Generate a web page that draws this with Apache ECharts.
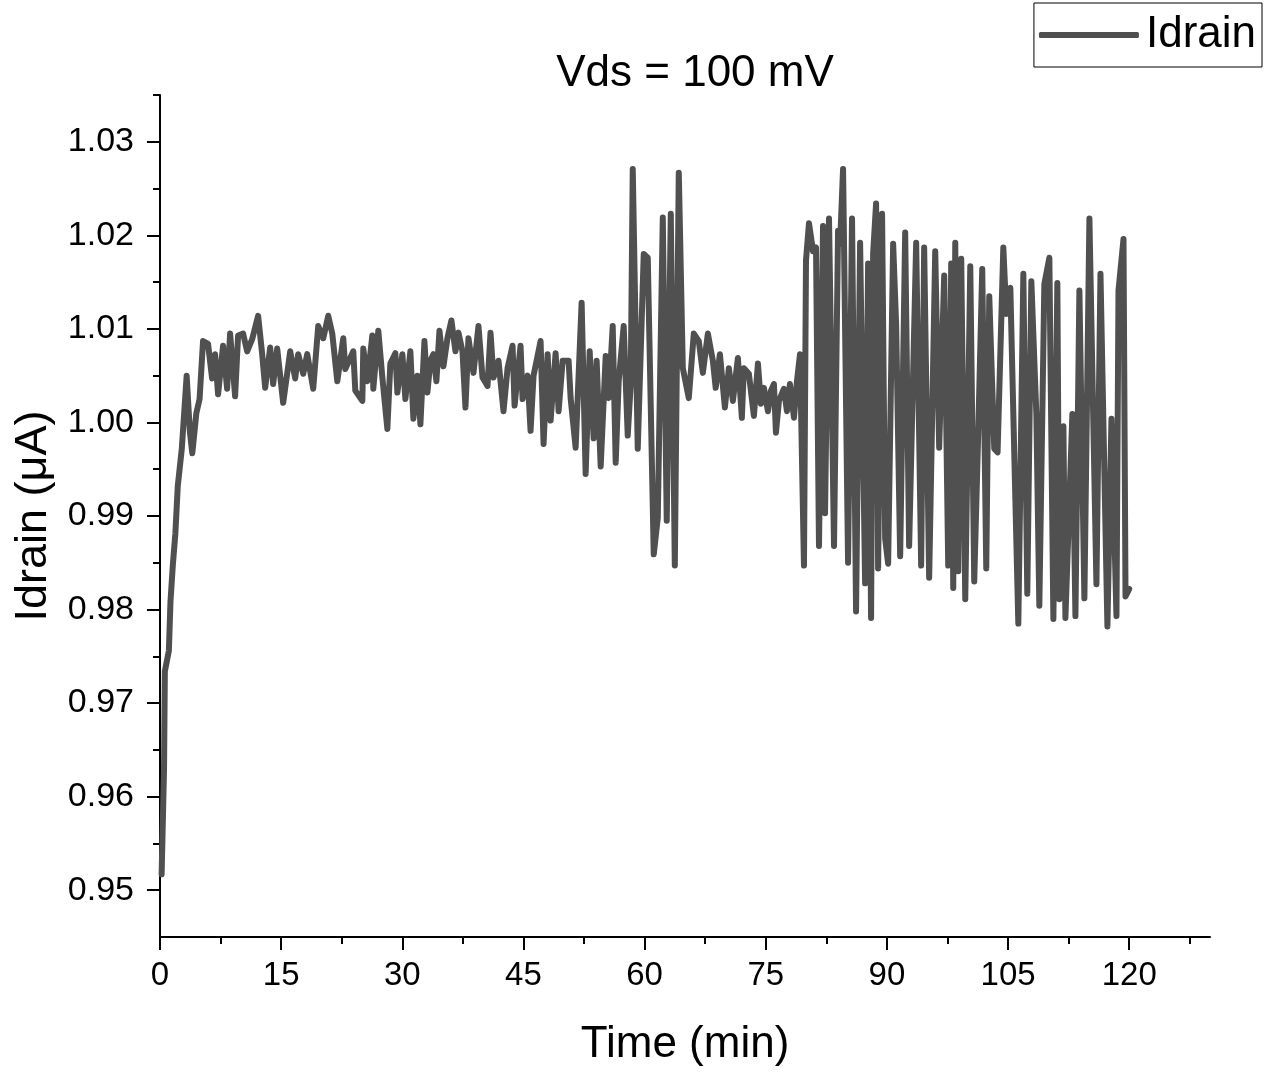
<!DOCTYPE html>
<html>
<head>
<meta charset="utf-8">
<script src="https://cdn.jsdelivr.net/npm/echarts@6/dist/echarts.min.js"></script>
<style>html,body{margin:0;padding:0;background:#fff}#c{width:1265px;height:1072px}</style>
</head>
<body>
<div id="c"></div>
<script>
// Time (min)
const times = [
 0.2,0.5,0.6,1.1,1.3,1.6,1.9,2.2,2.7,3.3,3.7,4.0,4.5,4.9,
 5.33,5.95,6.45,6.82,7.19,7.81,8.31,8.68,9.30,9.67,10.29,10.79,11.41,12.15,12.65,13.02,13.64,14.01,14.51,15.25,16.12,16.74,17.11,17.73,18.23,18.97,19.59,20.21,20.83,21.33,21.95,22.69,22.94,23.93,24.18,
 25.05,25.17,25.67,26.29,26.41,27.03,27.53,28.15,28.52,29.14,29.39,30.01,30.38,31.00,31.37,31.87,32.24,32.74,33.11,33.48,33.85,34.22,34.6,35.09,35.59,36.08,36.58,36.95,37.45,37.82,38.19,38.81,39.43,39.93,40.55,40.92,41.29,41.91,42.53,43.03,43.65,43.9,44.64,44.89,45.51,45.88,46.25,47.12,47.49,47.99,48.36,48.98,49.35,49.85,50.59,50.84,51.46,
 52.20,52.70,53.20,53.69,54.06,54.56,55.18,55.55,56.05,56.42,56.79,57.41,57.91,58.28,58.53,59.15,59.89,60.39,61.13,61.63,62.25,62.74,63.24,63.74,64.23,64.73,65.47,66.09,66.71,67.21,67.83,68.45,68.8,69.32,69.94,70.43,70.93,71.55,72.04,72.29,72.91,73.53,74.03,74.40,74.77,75.27,75.64,76.01,76.26,76.63,77.25,77.62,77.99,78.49,78.86,79.24,79.73,
 79.98,80.35,80.85,81.22,81.59,82.09,82.34,82.83,83.45,83.95,84.20,84.57,85.19,85.68,86.18,86.68,87.30,87.67,88.04,88.29,88.66,88.91,89.40,89.78,90.15,90.77,91.14,91.64,92.26,92.75,93.62,94.24,94.61,95.23,95.98,96.47,97.09,97.59,97.96,98.21,98.46,98.83,99.20,99.70,
 100.32,100.81,101.31,101.80,102.30,102.67,103.29,103.7,104.41,104.78,105.28,106.27,106.89,107.38,107.88,108.50,108.87,109.49,110.11,110.61,111.10,111.35,111.85,112.10,112.96,113.34,113.83,114.45,115.07,115.94,116.44,117.30,117.80,118.42,118.67,119.29,119.54,120.0
];
// Idrain (µA)
const idrain = [
 0.9517,0.9630,0.9734,0.9756,0.9809,0.9849,0.9881,0.9932,0.9972,1.0050,0.9990,0.9967,1.0010,1.0025,
 1.0087,1.0084,1.0047,1.0073,1.0030,1.0082,1.0036,1.0095,1.0028,1.0093,1.0095,1.0076,1.0089,1.0114,1.0073,1.0037,1.0080,1.0041,1.0079,1.0021,1.0076,1.0047,1.0073,1.0052,1.0073,1.0036,1.0103,1.0090,1.0114,1.0095,1.0044,1.0090,1.0057,1.0076,1.0034,
 1.0023,1.0079,1.0044,1.0093,1.0036,1.0098,1.0048,0.9993,1.0063,1.0074,1.0032,1.0073,1.0025,1.0076,1.0004,1.0050,0.9998,1.0087,1.0032,1.0066,1.0073,1.0044,1.0098,1.0060,1.0090,1.0109,1.0076,1.0096,1.0076,1.0016,1.0090,1.0053,1.0103,1.0048,1.0039,1.0096,1.0048,1.0066,1.0012,1.0058,1.0082,1.0018,1.0082,1.0025,1.0050,0.9991,1.0050,1.0087,0.9977,1.0073,1.0002,1.0074,1.0012,1.0066,1.0066,1.0026,0.9973,
 1.0128,0.9945,1.0076,0.9983,1.0066,0.9953,1.0071,1.0026,1.0103,0.9957,1.0044,1.0103,0.9986,1.0041,1.0271,0.9972,1.0180,1.0176,0.9859,0.9898,1.0219,0.9895,1.0223,0.9847,1.0267,1.0058,1.0026,1.0095,1.0087,1.0053,1.0095,1.0066,1.0037,1.0073,1.0016,1.0058,1.0023,1.0069,1.0005,1.0058,1.0052,1.0007,1.0063,1.0020,1.0037,1.0012,1.0034,1.0041,0.9989,1.0023,1.0036,1.0012,1.0041,1.0005,1.0044,1.0073,0.9847,
 1.0173,1.0213,1.0183,1.0187,0.9868,1.0210,0.9903,1.0218,0.9868,1.0205,1.0191,1.0271,0.9850,1.0218,0.9798,1.0192,0.9828,1.0170,0.9791,1.0180,1.0234,0.9844,1.0223,0.9876,0.9849,1.0191,1.0105,0.9857,1.0203,0.9868,1.0192,0.9847,1.0187,0.9834,1.0183,0.9973,1.0157,0.9847,1.0170,0.9823,1.0192,0.9841,1.0175,0.9811,
 1.0167,0.9830,0.9991,1.0164,0.9844,1.0135,0.9972,0.9968,1.0187,1.0116,1.0144,0.9785,1.0159,0.9817,1.0151,1.0009,0.9804,1.0148,1.0176,0.9790,1.0149,0.9811,0.9996,0.9791,1.0009,0.9793,1.0141,0.9812,1.0218,0.9827,1.0159,0.9782,1.0004,0.9793,1.0141,1.0196,0.9814,0.9822
];
const xMajor = [0,15,30,45,60,75,90,105,120];
const xMinor = [7.5,22.5,37.5,52.5,67.5,82.5,97.5,112.5,127.5];
const yMajor = [0.95,0.96,0.97,0.98,0.99,1.00,1.01,1.02,1.03];
const yMinor = [0.955,0.965,0.975,0.985,0.995,1.005,1.015,1.025,1.035];

const data = times.map((t,i)=>[t, idrain[i]]);
const FONT = 'Liberation Sans, Arial, sans-serif';
const chart = echarts.init(document.getElementById('c'), null, {renderer:'canvas'});
const axisLineStyle = {color:'#000', width:2};
chart.setOption({
  animation:false,
  backgroundColor:'#fff',
  title:{text:'Vds = 100 mV', left:690, top:47, textAlign:'center',
    textStyle:{fontFamily:FONT, fontSize:44, fontWeight:'normal', color:'#000'}},
  legend:{right:3, top:3, data:['Idrain'], icon:'roundRect', itemWidth:100, itemHeight:6, itemGap:0,
    borderColor:'#000', borderWidth:1, padding:[10,6,10,5], borderRadius:0,
    textStyle:{fontFamily:FONT, fontSize:44, color:'#000', padding:[0,0,0,2]}},
  grid:{left:160, right:55, top:95, bottom:135, containLabel:false},
  xAxis:[
    {type:'value', min:0, max:130, position:'bottom',
     name:'Time (min)', nameLocation:'middle', nameGap:86,
     nameTextStyle:{fontFamily:FONT, fontSize:44, color:'#000'},
     axisLine:{show:true, onZero:false, lineStyle:axisLineStyle},
     axisTick:{show:true, inside:false, length:13, lineStyle:{color:'#000', width:2}, customValues:xMajor},
     axisLabel:{show:true, margin:22, fontFamily:FONT, fontSize:33, color:'#000', customValues:xMajor},
     splitLine:{show:false}},
    {type:'value', min:0, max:130, position:'bottom',
     axisLine:{show:false},
     axisTick:{show:true, inside:false, length:7, lineStyle:{color:'#000', width:2}, customValues:xMinor},
     axisLabel:{show:false}, splitLine:{show:false}}
  ],
  yAxis:[
    {type:'value', min:0.945, max:1.035, position:'left',
     name:'Idrain (μA)', nameLocation:'middle', nameGap:104, nameRotate:90,
     nameTextStyle:{fontFamily:FONT, fontSize:45, color:'#000'},
     axisLine:{show:true, onZero:false, lineStyle:axisLineStyle},
     axisTick:{show:true, inside:false, length:13, lineStyle:{color:'#000', width:2}, customValues:yMajor},
     axisLabel:{show:true, margin:26, fontFamily:FONT, fontSize:34, color:'#000', customValues:yMajor,
       formatter:v=>v.toFixed(2)},
     splitLine:{show:false}},
    {type:'value', min:0.945, max:1.035, position:'left',
     axisLine:{show:false},
     axisTick:{show:true, inside:false, length:7, lineStyle:{color:'#000', width:2}, customValues:yMinor},
     axisLabel:{show:false}, splitLine:{show:false}}
  ],
  series:[{
    name:'Idrain', type:'line', data:data, xAxisIndex:0, yAxisIndex:0,
    showSymbol:false, symbol:'none',
    lineStyle:{color:'#505050', width:6, cap:'round', join:'round'},
    itemStyle:{color:'#505050'}
  }]
});
</script>
</body>
</html>
